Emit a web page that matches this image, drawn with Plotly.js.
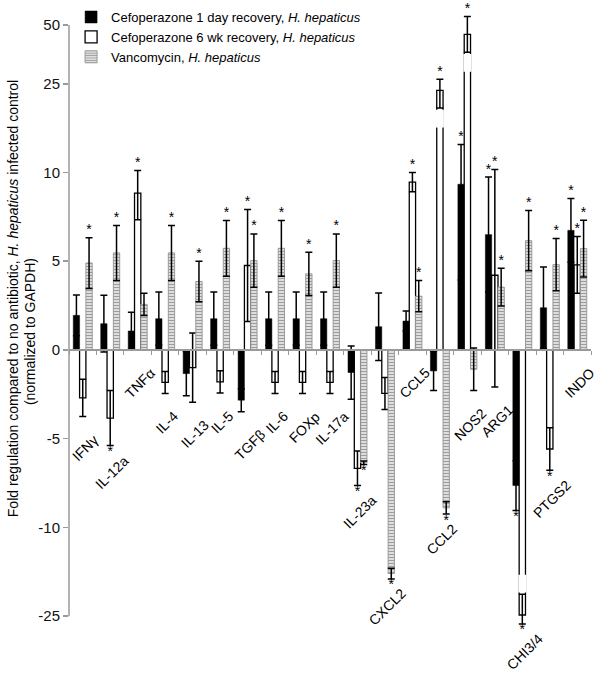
<!DOCTYPE html>
<html>
<head>
<meta charset="utf-8">
<script src="https://cdn.plot.ly/plotly-3.0.1.min.js"></script>
<style>html,body{margin:0;padding:0;background:#fff;}#chart{width:600px;height:674px;}</style>
</head>
<body>
<div id="chart"></div>
<script>
// ---- data ----
const categories = ['IFNγ','IL-12a','TNFα','IL-4','IL-13','IL-5','TGFβ','IL-6','FOXp','IL-17a','IL-23a','CXCL2','CCL5','CCL2','NOS2','ARG1','CHI3/4','PTGS2','INDO'];

const seriesNames = [
  'Cefoperazone 1 day recovery, <i>H. hepaticus</i>',
  'Cefoperazone 6 wk recovery, <i>H. hepaticus</i>',
  'Vancomycin, <i>H. hepaticus</i>'
];

const cef1    = [1.95, 1.48, 1.07, 1.76, -1.33, 1.76, -2.83, 1.76, 1.76, 1.76, -1.27, 1.31, 1.63, -1.18, 9.34, 6.5, -7.64, 2.38, 6.74];
const cef1Err = [1.15, 1.6, 1.05, 1.5, 1.25, 1.5, 0.65, 1.5, 1.5, 1.5, 1.5, 1.9, 0.56, 1.1, 5.4, 3.24, 1.4, 2.3, 1.8];
const cef1Sig = [0,0,0,0,0,0,0,0,0,0,0,0,0,0,1,1,1,0,1];

const cef6    = [-2.7, -3.84, 8.84, -1.83, -1.0, -1.8, 4.76, -1.83, -1.83, -1.83, -6.67, -2.45, 9.46, 23.9, 46, 4.21, -24.8, -5.58, 4.8];
const cef6Err = [1.05, 1.55, 1.5, 0.62, 1.95, 0.63, 3.15, 0.62, 0.62, 0.62, 0.97, 0.9, 0.55, 3.0, 7.6, 6.3, 3.5, 1.2, 1.6];
const cef6Sig = [0,1,1,0,0,0,1,0,0,0,1,0,1,1,1,1,1,1,1];

const vanc    = [4.9, 5.47, 2.57, 5.47, 3.86, 5.73, 5.04, 5.73, 4.29, 5.04, -6.35, -17.8, 3.03, -8.9, -1.09, 3.54, 6.16, 4.81, 5.71];
const vancErr = [1.43, 1.55, 0.63, 1.55, 1.14, 1.57, 1.5, 1.57, 1.22, 1.5, 0.1, 0.9, 0.88, 0.35, 1.2, 1.06, 1.7, 1.47, 1.6];
const vancSig = [1,1,0,1,1,1,1,1,1,1,1,1,1,1,0,1,1,1,1];

const tickValues = [-25, -10, -5, 0, 5, 10, 25, 50];
const tickLabels = ['-25', '-10', '-5', '0', '5', '10', '25', '50'];

// ---- broken axis transform (each segment between ticks = 1 unit; 25→50 compressed) ----
function T(v) {
  const s = Math.sign(v), a = Math.abs(v);
  let t;
  if (a <= 10) t = a / 5;
  else if (a <= 25) t = 2 + (a - 10) / 15;
  else t = 3 + (a - 25) / 25 * (59 / 89);
  return s * t;
}

const idx = categories.map((c, i) => i);
const bargap = 0.31;
const bw = (1 - bargap) / 3;
const yMin = -3.494, yMax = 3.899;
const breakThreshold = 20;

const series = [
  {v: cef1, e: cef1Err, s: cef1Sig, marker: {color: '#000000', line: {color: '#000000', width: 0.5}}},
  {v: cef6, e: cef6Err, s: cef6Sig, marker: {color: '#ffffff', line: {color: '#000000', width: 1.3}}},
  {v: vanc, e: vancErr, s: vancSig, marker: {color: '#e4e4e4', line: {color: '#9a9a9a', width: 1},
      pattern: {shape: '-', fgcolor: '#9c9c9c', bgcolor: '#ececec', size: 3, solidity: 0.45}}}
];

const traces = [];
series.forEach((sr, k) => {
  traces.push({
    type: 'bar', x: idx, y: sr.v.map(T), name: seriesNames[k],
    marker: sr.marker, hoverinfo: 'skip',
    error_y: {
      type: 'data', symmetric: false,
      array: sr.v.map((v, i) => T(v + sr.e[i]) - T(v)),
      arrayminus: sr.v.map((v, i) => T(v) - T(v - sr.e[i])),
      color: '#000', thickness: 1.5, width: 3.5
    }
  });
});

// significance asterisks
series.forEach((sr, k) => {
  const xs = [], ys = [], pos = [];
  sr.v.forEach((v, i) => {
    if (!sr.s[i]) return;
    xs.push(i + (k - 1) * bw);
    if (v >= 0) { ys.push(T(v + sr.e[i])); pos.push('top center'); }
    else { ys.push(T(v - sr.e[i])); pos.push('bottom center'); }
  });
  traces.push({
    type: 'scatter', mode: 'text', x: xs, y: ys, text: xs.map(() => '*'),
    textposition: pos, textfont: {size: 14, color: '#000'},
    marker: {size: 1}, showlegend: false, hoverinfo: 'skip', cliponaxis: false
  });
});

// break gaps on very tall bars
const shapes = [];
series.forEach((sr, k) => {
  sr.v.forEach((v, i) => {
    if (Math.abs(v) <= breakThreshold) return;
    const s = Math.sign(v);
    const cap = T(v - s * sr.e[i]);
    const c = i + (k - 1) * bw;
    shapes.push({type: 'rect', xref: 'x', yref: 'y', x0: c - bw / 2 - 0.03, x1: c + bw / 2 + 0.03,
      y0: cap - s * 0.02, y1: cap - s * 0.22, fillcolor: '#ffffff', line: {width: 0}, layer: 'above'});
  });
});
// y axis line from -25 to 50
shapes.push({type: 'line', xref: 'paper', yref: 'y', x0: 0, x1: 0, y0: T(-25), y1: T(50),
  line: {color: '#9a9a9a', width: 1.5}, layer: 'above'});

// category labels under lowest element
const annotations = [];
categories.forEach((c, i) => {
  let low = 0, starred = false;
  series.forEach(sr => {
    const lo = T(sr.v[i] - sr.e[i]);
    if (lo < low) { low = lo; starred = !!sr.s[i] && sr.v[i] < 0; }
  });
  annotations.push({
    x: i + 0.08, y: low, xref: 'x', yref: 'y', text: c, showarrow: false,
    textangle: -45, xanchor: 'center', yanchor: 'top', yshift: starred ? -4 : -12,
    font: {size: 14, color: '#000'}
  });
});
// y title (two lines)
annotations.push({xref: 'paper', yref: 'paper', x: (13 - 69) / 523, y: 1 - (298 - 2) / 658,
  text: 'Fold regulation compared to no antibiotic, <i>H. hepaticus</i> infected control',
  showarrow: false, textangle: -90, xanchor: 'center', yanchor: 'middle', font: {size: 14, color: '#000'}});
annotations.push({xref: 'paper', yref: 'paper', x: (30 - 69) / 523, y: 1 - (331 - 2) / 658,
  text: '(normalized to GAPDH)',
  showarrow: false, textangle: -90, xanchor: 'center', yanchor: 'middle', font: {size: 14, color: '#000'}});

const layout = {
  width: 600, height: 674,
  margin: {l: 69, r: 9, t: 2, b: 14},
  paper_bgcolor: '#ffffff', plot_bgcolor: '#ffffff',
  font: {family: '"Liberation Sans", Arial, sans-serif', color: '#000'},
  barmode: 'group', bargap: bargap, bargroupgap: 0,
  showlegend: true,
  legend: {x: 0.004, y: 1.003, xanchor: 'left', yanchor: 'top', font: {size: 13},
    bgcolor: 'rgba(0,0,0,0)', tracegroupgap: 0},
  xaxis: {
    type: 'linear', range: [-0.5, categories.length - 0.5],
    anchor: 'free', position: (0 - yMin) / (yMax - yMin),
    showline: true, linecolor: '#9a9a9a', linewidth: 2,
    ticks: 'outside', tickvals: categories.map((c, i) => i - 0.5).concat([categories.length - 0.5]),
    ticklen: 4, tickcolor: '#9a9a9a', tickwidth: 1,
    showticklabels: false, showgrid: false, zeroline: false, fixedrange: true
  },
  yaxis: {
    range: [yMin, yMax],
    tickvals: tickValues.map(T), ticktext: tickLabels,
    ticks: 'outside', ticklen: 5, tickcolor: '#9a9a9a', tickwidth: 1.5,
    showline: false, showgrid: false, zeroline: false,
    tickfont: {size: 15, color: '#111'}, fixedrange: true
  },
  shapes: shapes,
  annotations: annotations
};

Plotly.newPlot('chart', traces, layout, {displayModeBar: false, staticPlot: true});
</script>
</body>
</html>
